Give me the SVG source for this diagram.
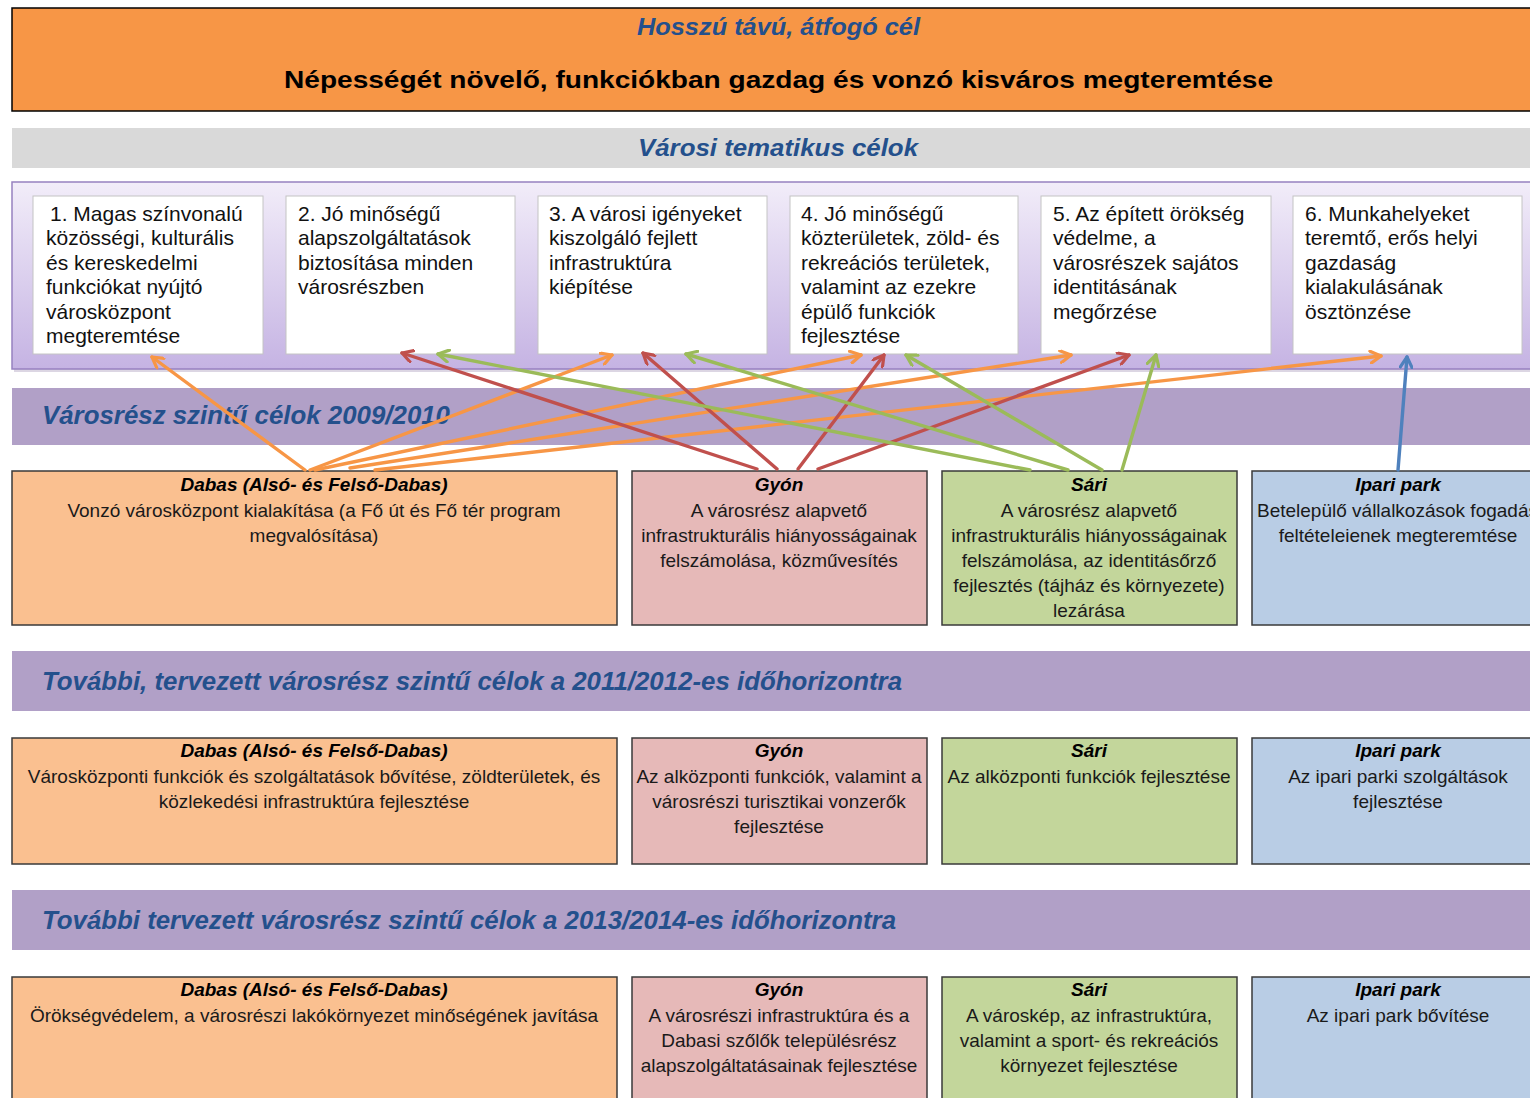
<svg xmlns="http://www.w3.org/2000/svg" width="1530" height="1098" viewBox="0 0 1530 1098">
<defs>
<linearGradient id="panelGrad" x1="0" y1="0" x2="0" y2="1">
<stop offset="0" stop-color="#f2edf9"/>
<stop offset="1" stop-color="#c5b3e3"/>
</linearGradient>
<marker id="mO" viewBox="0 0 14 14" refX="12" refY="7" markerWidth="14" markerHeight="14" markerUnits="userSpaceOnUse" orient="auto"><path d="M1.5,1 L12,7 L1.5,13" fill="none" stroke="#f79646" stroke-width="3.2" stroke-linecap="round" stroke-linejoin="round"/></marker>
<marker id="mR" viewBox="0 0 14 14" refX="12" refY="7" markerWidth="14" markerHeight="14" markerUnits="userSpaceOnUse" orient="auto"><path d="M1.5,1 L12,7 L1.5,13" fill="none" stroke="#c0504d" stroke-width="3.2" stroke-linecap="round" stroke-linejoin="round"/></marker>
<marker id="mG" viewBox="0 0 14 14" refX="12" refY="7" markerWidth="14" markerHeight="14" markerUnits="userSpaceOnUse" orient="auto"><path d="M1.5,1 L12,7 L1.5,13" fill="none" stroke="#9bbb59" stroke-width="3.2" stroke-linecap="round" stroke-linejoin="round"/></marker>
<marker id="mB" viewBox="0 0 14 14" refX="12" refY="7" markerWidth="14" markerHeight="14" markerUnits="userSpaceOnUse" orient="auto"><path d="M1.5,1 L12,7 L1.5,13" fill="none" stroke="#4f81bd" stroke-width="3.2" stroke-linecap="round" stroke-linejoin="round"/></marker>
</defs>
<style>
.title{font-family:"Liberation Sans",Arial,sans-serif;font-weight:bold;font-style:italic;fill:#24508c;}
.main{font-family:"Liberation Sans",Arial,sans-serif;font-weight:bold;fill:#000;font-size:24px;}
.goal{fill:#fff;stroke:#c4c4c4;stroke-width:1;}
.gt{font-family:"Liberation Sans",Arial,sans-serif;font-size:21px;fill:#111;}
.band{fill:#b1a0c7;}
.box{stroke:#3a3a3a;stroke-width:1.5;}
.dab{fill:#fac090;}
.gyo{fill:#e6b9b8;}
.sar{fill:#c3d69b;}
.ipa{fill:#b9cde5;}
.bh{font-family:"Liberation Sans",Arial,sans-serif;font-size:19px;font-weight:bold;font-style:italic;fill:#000;text-anchor:middle;}
.bt{font-family:"Liberation Sans",Arial,sans-serif;font-size:19px;fill:#1a1a1a;text-anchor:middle;}
.bl{font-family:"Liberation Sans",Arial,sans-serif;font-size:19px;fill:#1a1a1a;text-anchor:start;}
.c{fill:none;stroke-width:3.4;stroke-linecap:round;}
.o{stroke:#f79646;marker-end:url(#mO);}
.r{stroke:#c0504d;marker-end:url(#mR);}
.g{stroke:#9bbb59;marker-end:url(#mG);}
.b{stroke:#4f81bd;marker-end:url(#mB);}
</style>
<rect width="1530" height="1098" fill="#fff"/>

<g id="header">
<rect x="12" y="8" width="1540" height="103" fill="#f79646" stroke="#000" stroke-width="1.5"/>
<text class="title" x="778.5" y="35" font-size="24" text-anchor="middle" textLength="283" lengthAdjust="spacingAndGlyphs">Hosszú távú, átfogó cél</text>
<text class="main" x="778.5" y="88" text-anchor="middle" textLength="989" lengthAdjust="spacingAndGlyphs">Népességét növelő, funkciókban gazdag és vonzó kisváros megteremtése</text>
</g>

<g id="thematic-band">
<rect x="12" y="128" width="1530" height="40" fill="#d9d9d9"/>
<text class="title" x="778" y="156" font-size="24" text-anchor="middle" textLength="280" lengthAdjust="spacingAndGlyphs">Városi tematikus célok</text>
</g>

<g id="goals-panel">
<rect x="14" y="184" width="1530" height="188" fill="#9a8ab0" opacity="0.35"/>
<rect x="12" y="182" width="1530" height="187" fill="url(#panelGrad)" stroke="#9781c0" stroke-width="1.5"/>
</g>

<g id="goal1">
<rect class="goal" x="33" y="196" width="230" height="158"/>
<text class="gt" x="50" y="221"><tspan x="50">1. Magas színvonalú</tspan><tspan x="46" dy="24.4">közösségi, kulturális</tspan><tspan x="46" dy="24.4">és kereskedelmi</tspan><tspan x="46" dy="24.4">funkciókat nyújtó</tspan><tspan x="46" dy="24.4">városközpont</tspan><tspan x="46" dy="24.4">megteremtése</tspan></text>
</g>
<g id="goal2">
<rect class="goal" x="286" y="196" width="229" height="158"/>
<text class="gt" x="298" y="221"><tspan x="298">2. Jó minőségű</tspan><tspan x="298" dy="24.4">alapszolgáltatások</tspan><tspan x="298" dy="24.4">biztosítása minden</tspan><tspan x="298" dy="24.4">városrészben</tspan></text>
</g>
<g id="goal3">
<rect class="goal" x="538" y="196" width="229" height="158"/>
<text class="gt" x="549" y="221"><tspan x="549">3. A városi igényeket</tspan><tspan x="549" dy="24.4">kiszolgáló fejlett</tspan><tspan x="549" dy="24.4">infrastruktúra</tspan><tspan x="549" dy="24.4">kiépítése</tspan></text>
</g>
<g id="goal4">
<rect class="goal" x="790" y="196" width="228" height="158"/>
<text class="gt" x="801" y="221"><tspan x="801">4. Jó minőségű</tspan><tspan x="801" dy="24.4">közterületek, zöld- és</tspan><tspan x="801" dy="24.4">rekreációs területek,</tspan><tspan x="801" dy="24.4">valamint az ezekre</tspan><tspan x="801" dy="24.4">épülő funkciók</tspan><tspan x="801" dy="24.4">fejlesztése</tspan></text>
</g>
<g id="goal5">
<rect class="goal" x="1041" y="196" width="230" height="158"/>
<text class="gt" x="1053" y="221"><tspan x="1053">5. Az épített örökség</tspan><tspan x="1053" dy="24.4">védelme, a</tspan><tspan x="1053" dy="24.4">városrészek sajátos</tspan><tspan x="1053" dy="24.4">identitásának</tspan><tspan x="1053" dy="24.4">megőrzése</tspan></text>
</g>
<g id="goal6">
<rect class="goal" x="1293" y="196" width="229" height="158"/>
<text class="gt" x="1305" y="221"><tspan x="1305">6. Munkahelyeket</tspan><tspan x="1305" dy="24.4">teremtő, erős helyi</tspan><tspan x="1305" dy="24.4">gazdaság</tspan><tspan x="1305" dy="24.4">kialakulásának</tspan><tspan x="1305" dy="24.4">ösztönzése</tspan></text>
</g>

<g id="band-2009">
<rect class="band" x="12" y="388" width="1530" height="57"/>
<text class="title" x="42" y="424" font-size="26" textLength="408" lengthAdjust="spacingAndGlyphs">Városrész szintű célok 2009/2010</text>
</g>

<g id="r1-dabas">
<rect class="box dab" x="12" y="471" width="605" height="154"/>
<text class="bh" x="314" y="491">Dabas (Alsó- és Felső-Dabas)</text>
<text class="bt" x="314" y="517"><tspan x="314">Vonzó városközpont kialakítása (a Fő út és Fő tér program</tspan><tspan x="314" dy="25">megvalósítása)</tspan></text>
</g>
<g id="r1-gyon">
<rect class="box gyo" x="632" y="471" width="295" height="154"/>
<text class="bh" x="779" y="491">Gyón</text>
<text class="bt" x="779" y="517"><tspan x="779">A városrész alapvető</tspan><tspan x="779" dy="25">infrastrukturális hiányosságainak</tspan><tspan x="779" dy="25">felszámolása, közművesítés</tspan></text>
</g>
<g id="r1-sari">
<rect class="box sar" x="942" y="471" width="295" height="154"/>
<text class="bh" x="1089" y="491">Sári</text>
<text class="bt" x="1089" y="517"><tspan x="1089">A városrész alapvető</tspan><tspan x="1089" dy="25">infrastrukturális hiányosságainak</tspan><tspan x="1089" dy="25">felszámolása, az identitásőrző</tspan><tspan x="1089" dy="25">fejlesztés (tájház és környezete)</tspan><tspan x="1089" dy="25">lezárása</tspan></text>
</g>
<g id="r1-ipari">
<rect class="box ipa" x="1252" y="471" width="295" height="154"/>
<text class="bh" x="1398" y="491">Ipari park</text>
<text class="bl" x="1257" y="517">Betelepülő vállalkozások fogadás</text>
<text class="bt" x="1398" y="542">feltételeienek megteremtése</text>
</g>

<g id="band-2011">
<rect class="band" x="12" y="651" width="1530" height="60"/>
<text class="title" x="42" y="690" font-size="26" textLength="860" lengthAdjust="spacingAndGlyphs">További, tervezett városrész szintű célok a 2011/2012-es időhorizontra</text>
</g>

<g id="r2-dabas">
<rect class="box dab" x="12" y="738" width="605" height="126"/>
<text class="bh" x="314" y="757">Dabas (Alsó- és Felső-Dabas)</text>
<text class="bt" x="314" y="783"><tspan x="314">Városközponti funkciók és szolgáltatások bővítése, zöldterületek, és</tspan><tspan x="314" dy="25">közlekedési infrastruktúra fejlesztése</tspan></text>
</g>
<g id="r2-gyon">
<rect class="box gyo" x="632" y="738" width="295" height="126"/>
<text class="bh" x="779" y="757">Gyón</text>
<text class="bt" x="779" y="783"><tspan x="779">Az alközponti funkciók, valamint a</tspan><tspan x="779" dy="25">városrészi turisztikai vonzerők</tspan><tspan x="779" dy="25">fejlesztése</tspan></text>
</g>
<g id="r2-sari">
<rect class="box sar" x="942" y="738" width="295" height="126"/>
<text class="bh" x="1089" y="757">Sári</text>
<text class="bt" x="1089" y="783">Az alközponti funkciók fejlesztése</text>
</g>
<g id="r2-ipari">
<rect class="box ipa" x="1252" y="738" width="295" height="126"/>
<text class="bh" x="1398" y="757">Ipari park</text>
<text class="bt" x="1398" y="783"><tspan x="1398">Az ipari parki szolgáltások</tspan><tspan x="1398" dy="25">fejlesztése</tspan></text>
</g>

<g id="band-2013">
<rect class="band" x="12" y="890" width="1530" height="60"/>
<text class="title" x="42" y="929" font-size="26" textLength="854" lengthAdjust="spacingAndGlyphs">További tervezett városrész szintű célok a 2013/2014-es időhorizontra</text>
</g>

<g id="r3-dabas">
<rect class="box dab" x="12" y="977" width="605" height="140"/>
<text class="bh" x="314" y="996">Dabas (Alsó- és Felső-Dabas)</text>
<text class="bt" x="314" y="1022">Örökségvédelem, a városrészi lakókörnyezet minőségének javítása</text>
</g>
<g id="r3-gyon">
<rect class="box gyo" x="632" y="977" width="295" height="140"/>
<text class="bh" x="779" y="996">Gyón</text>
<text class="bt" x="779" y="1022"><tspan x="779">A városrészi infrastruktúra és a</tspan><tspan x="779" dy="25">Dabasi szőlők településrész</tspan><tspan x="779" dy="25">alapszolgáltatásainak fejlesztése</tspan></text>
</g>
<g id="r3-sari">
<rect class="box sar" x="942" y="977" width="295" height="140"/>
<text class="bh" x="1089" y="996">Sári</text>
<text class="bt" x="1089" y="1022"><tspan x="1089">A városkép, az infrastruktúra,</tspan><tspan x="1089" dy="25">valamint a sport- és rekreációs</tspan><tspan x="1089" dy="25">környezet fejlesztése</tspan></text>
</g>
<g id="r3-ipari">
<rect class="box ipa" x="1252" y="977" width="295" height="140"/>
<text class="bh" x="1398" y="996">Ipari park</text>
<text class="bt" x="1398" y="1022">Az ipari park bővítése</text>
</g>

<g id="connectors">
<line class="c o" x1="305" y1="470" x2="152" y2="357"/>
<line class="c o" x1="310" y1="470" x2="612" y2="355"/>
<line class="c o" x1="315" y1="470" x2="861" y2="355"/>
<line class="c o" x1="350" y1="468" x2="1071" y2="355"/>
<line class="c o" x1="375" y1="470" x2="1381" y2="356"/>
<line class="c r" x1="757" y1="469" x2="402" y2="353"/>
<line class="c r" x1="777" y1="469" x2="643" y2="353"/>
<line class="c r" x1="798" y1="469" x2="884" y2="355"/>
<line class="c r" x1="818" y1="469" x2="1129" y2="355"/>
<line class="c g" x1="1030" y1="470" x2="438" y2="354"/>
<line class="c g" x1="1068" y1="470" x2="686" y2="354"/>
<line class="c g" x1="1102" y1="470" x2="906" y2="355"/>
<line class="c g" x1="1122" y1="470" x2="1156" y2="355"/>
<line class="c b" x1="1398" y1="470" x2="1407" y2="357"/>
</g>
</svg>
